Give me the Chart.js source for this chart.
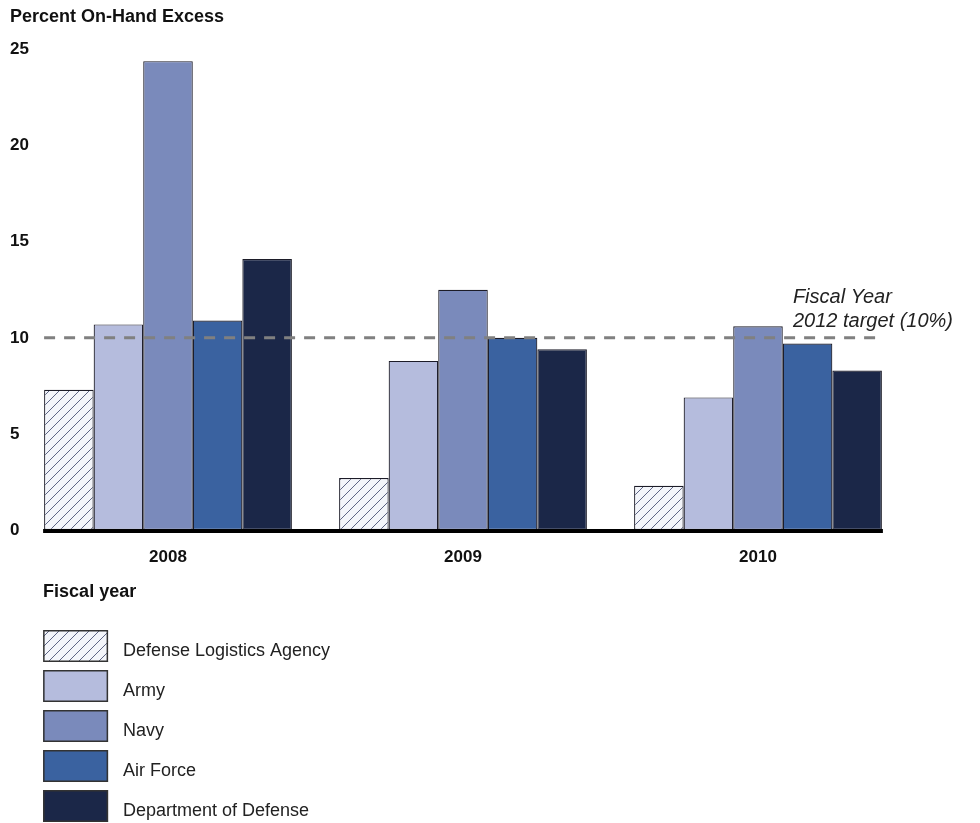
<!DOCTYPE html>
<html>
<head>
<meta charset="utf-8">
<script src="https://cdn.jsdelivr.net/npm/chart.js@4"></script>
<style>
  html, body { margin: 0; padding: 0; background: #fff; }
</style>
</head>
<body>
<canvas id="excessChart" width="980" height="823"></canvas>
<script>
const years = ['2008', '2009', '2010'];
const seriesNames = ['Defense Logistics Agency', 'Army', 'Navy', 'Air Force', 'Department of Defense'];
const dlaValues = [7.3, 2.7, 2.3];
const armyValues = [10.7, 8.8, 6.9];
const navyValues = [24.4, 12.5, 10.6];
const airForceValues = [10.9, 10.0, 9.7];
const dodValues = [14.1, 9.4, 8.3];
const targetValue = 10;
const targetNote = ['Fiscal Year', '2012 target (10%)'];
const yTicks = [0, 5, 10, 15, 20, 25];

const FONT = '"Liberation Sans", Arial, sans-serif';

// diagonal hatch for DLA bars
function hatchPattern() {
    const c = document.createElement('canvas');
    c.width = 10; c.height = 10;
    const p = c.getContext('2d');
    p.fillStyle = '#f3f5fa';
    p.fillRect(0, 0, 10, 10);
    p.strokeStyle = '#5d6585';
    p.lineWidth = 1;
    p.beginPath();
    p.moveTo(0, 10); p.lineTo(10, 0);
    p.moveTo(-5, 5); p.lineTo(5, -5);
    p.moveTo(5, 15); p.lineTo(15, 5);
    p.stroke();
    return p.createPattern(c, 'repeat');
}

const colors = [hatchPattern(), '#b5bcdd', '#7a8abb', '#3a62a0', '#1b2748'];
const values = [dlaValues, armyValues, navyValues, airForceValues, dodValues];

const extras = {
    id: 'extras',
    afterDatasetsDraw(chart) {
        const ctx = chart.ctx;
        const y = chart.scales.y;
        const first = chart.getDatasetMeta(0).data[0];
        const lastMeta = chart.getDatasetMeta(chart.data.datasets.length - 1);
        const last = lastMeta.data[lastMeta.data.length - 1];
        const left = first.x - first.width / 2;
        const right = last.x + last.width / 2;
        ctx.save();

        // y tick labels (the axis box is too narrow for them)
        ctx.fillStyle = '#111';
        ctx.font = 'bold 17px ' + FONT;
        ctx.textBaseline = 'middle';
        ctx.textAlign = 'left';
        y.ticks.forEach(t => ctx.fillText(String(t.value), 10, y.getPixelForValue(t.value)));

        // target line
        const ty = y.getPixelForValue(targetValue);
        ctx.strokeStyle = '#808080';
        ctx.lineWidth = 3;
        ctx.setLineDash([11, 9]);
        ctx.beginPath();
        ctx.moveTo(left, ty);
        ctx.lineTo(right, ty);
        ctx.stroke();
        ctx.setLineDash([]);

        // zero line
        const by = y.getPixelForValue(0);
        ctx.fillStyle = '#000';
        ctx.fillRect(left - 1, by - 1, right - left + 2, 4);

        // target note
        ctx.fillStyle = '#222';
        ctx.font = 'italic 20px ' + FONT;
        targetNote.forEach((line, i) => ctx.fillText(line, right - 89, ty - 40 + i * 24));

        // legend
        ctx.fillStyle = '#111';
        ctx.font = 'bold 18px ' + FONT;
        ctx.fillText('Fiscal year', left - 1, 592);
        ctx.font = '18px ' + FONT;
        chart.data.datasets.forEach((ds, i) => {
            const bx = left - 1, bty = 630 + i * 40;
            ctx.fillStyle = ds.backgroundColor;
            ctx.fillRect(bx, bty, 65, 32);
            ctx.strokeStyle = '#333';
            ctx.lineWidth = 1.5;
            ctx.strokeRect(bx + 0.75, bty + 0.75, 63.5, 30.5);
            ctx.fillStyle = '#222';
            ctx.fillText(ds.label, 123, bty + 21);
        });
        ctx.restore();
    }
};

new Chart(document.getElementById('excessChart').getContext('2d'), {
    type: 'bar',
    data: {
        labels: years,
        datasets: seriesNames.map((name, i) => ({
            label: name,
            data: values[i],
            backgroundColor: colors[i],
            borderColor: '#1c1c28',
            borderWidth: 1.2,
            borderSkipped: false,
            barPercentage: 1,
            categoryPercentage: 0.84
        }))
    },
    options: {
        responsive: false,
        animation: false,
        events: [],
        layout: { padding: { left: 10, right: 74.5, top: 0, bottom: 238.6 } },
        plugins: {
            legend: { display: false },
            tooltip: { enabled: false },
            title: {
                display: true,
                text: 'Percent On-Hand Excess',
                align: 'start',
                color: '#111',
                font: { family: FONT, size: 18, weight: 'bold' },
                padding: { top: 6, bottom: 22 }
            }
        },
        scales: {
            x: {
                grid: { display: false, drawTicks: false },
                border: { display: false },
                ticks: {
                    color: '#111',
                    padding: 17,
                    font: { family: FONT, size: 17, weight: 'bold' }
                }
            },
            y: {
                min: 0,
                max: 25,
                afterFit(scale) { scale.width = 10.5; },
                afterBuildTicks(scale) { scale.ticks = yTicks.map(v => ({ value: v })); },
                grid: { display: false, drawTicks: false },
                border: { display: false },
                ticks: { display: false }
            }
        }
    },
    plugins: [extras]
});
</script>
</body>
</html>
